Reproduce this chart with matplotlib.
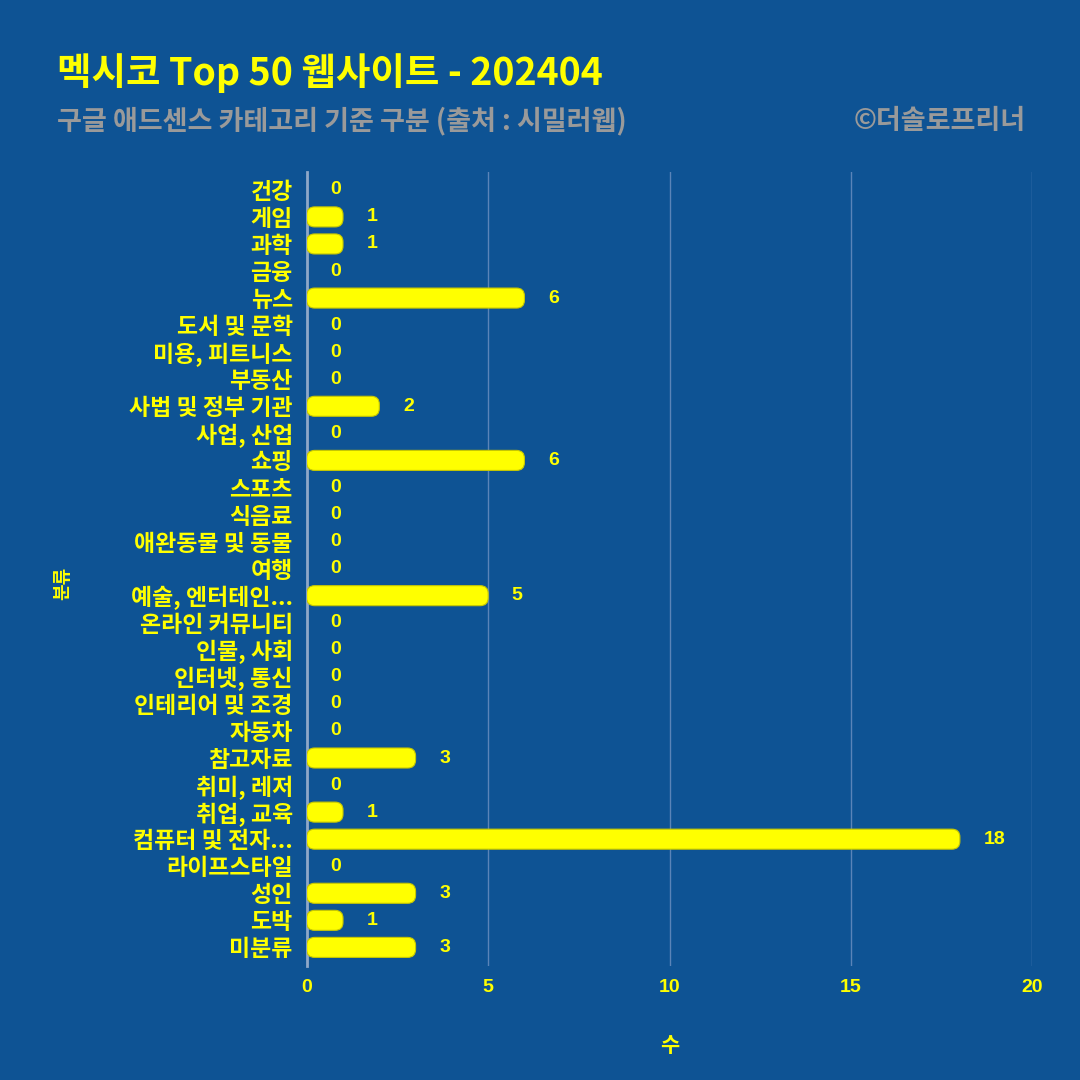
import matplotlib.pyplot as plt
from matplotlib.patches import FancyBboxPatch
import numpy as np

plt.rcParams['font.family'] = ['Noto Sans CJK KR', 'DejaVu Sans']

categories = ['건강', '게임', '과학', '금융', '뉴스', '도서 및 문학', '미용, 피트니스', '부동산',
              '사법 및 정부 기관', '사업, 산업', '쇼핑', '스포츠', '식음료', '애완동물 및 동물', '여행',
              '예술, 엔터테인...', '온라인 커뮤니티', '인물, 사회', '인터넷, 통신', '인테리어 및 조경',
              '자동차', '참고자료', '취미, 레저', '취업, 교육', '컴퓨터 및 전자...', '라이프스타일',
              '성인', '도박', '미분류']
counts = [0, 1, 1, 0, 6, 0, 0, 0, 2, 0, 6, 0, 0, 0, 0, 5, 0, 0, 0, 0, 0, 3, 0, 1, 18, 0, 3, 1, 3]
xticks = [0, 5, 10, 15, 20]

bg = '#0e5394'
yellow = '#ffff00'

fig = plt.figure(figsize=(10.8, 10.8), dpi=100, facecolor=bg)
ax = fig.add_axes([0.284, 0.106, 0.672, 0.735], facecolor=bg)

y = np.arange(len(categories))
bars = ax.barh(y, counts, height=0.74, color=yellow, zorder=3)

# swap the square bars for rounded ones
for b in bars:
    x0, y0, w, h = b.get_x(), b.get_y(), b.get_width(), b.get_height()
    b.set_visible(False)
    if w <= 0:
        continue
    p = FancyBboxPatch((x0, y0), w, h, boxstyle='round,pad=0,rounding_size=0.22',
                       mutation_aspect=1.34, facecolor=yellow, edgecolor='#c8c800',
                       linewidth=0.8, zorder=3)
    ax.add_patch(p)

for yi, v in zip(y, counts):
    ax.annotate(str(v), (v, yi), xytext=(17, 0), textcoords='offset points',
                ha='left', va='center', color=yellow, fontsize=14, fontweight='bold',
                family=['Liberation Sans', 'DejaVu Sans'])

ax.set_xlim(0, 20)
ax.set_ylim(len(categories) - 0.33, -0.67)
ax.set_xticks(xticks)
ax.set_xticklabels([str(t) for t in xticks])
ax.set_yticks(y)
ax.set_yticklabels(categories)
ax.tick_params(axis='both', length=0, colors=yellow)
ax.tick_params(axis='x', pad=10, labelsize=14)
ax.tick_params(axis='y', pad=10, labelsize=16.5)
for lab in ax.get_xticklabels():
    lab.set_fontweight('bold')
    lab.set_family(['Liberation Sans', 'DejaVu Sans'])
for lab in ax.get_yticklabels():
    lab.set_fontweight('bold')

ax.grid(axis='x', color='#5a84b8', linewidth=1, zorder=0)
ax.set_axisbelow(True)
for s in ['top', 'right', 'bottom']:
    ax.spines[s].set_visible(False)
ax.spines['left'].set_color('#8fa8c8')
ax.spines['left'].set_linewidth(2)

ax.set_xlabel('수', color=yellow, fontsize=15, fontweight='bold', labelpad=28)
fig.text(0.058, 0.46, '분류', color=yellow, fontsize=13, fontweight='bold',
         rotation=90, ha='center', va='center')

fig.text(0.053, 0.932, '멕시코 Top 50 웹사이트 - 202404', color=yellow, fontsize=27,
         fontweight='bold', ha='left', va='center')
fig.text(0.053, 0.888, '구글 애드센스 카테고리 기준 구분 (출처 : 시밀러웹)', color='#9a9a9a',
         fontsize=19.5, fontweight='bold', ha='left', va='center')
fig.text(0.95, 0.888, '©더솔로프리너', color='#9a9a9a', fontsize=19.5,
         fontweight='bold', ha='right', va='center')

fig.savefig('out.png', dpi=100, facecolor=bg)
